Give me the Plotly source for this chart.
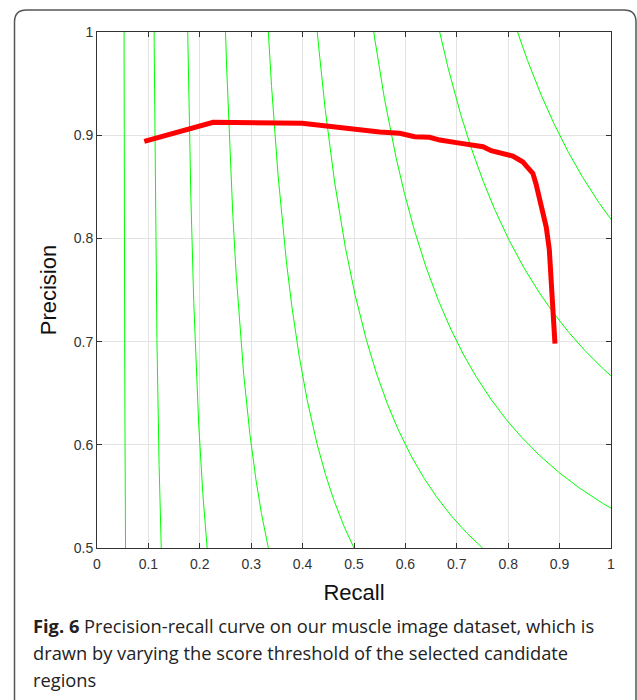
import numpy as np
import plotly.graph_objects as go

# Precision-recall curve
recall = [0.092, 0.226, 0.399, 0.498, 0.550, 0.589, 0.618, 0.647, 0.667, 0.699,
          0.731, 0.751, 0.767, 0.809, 0.828, 0.848, 0.854, 0.861, 0.874, 0.880,
          0.887, 0.891]
precision = [0.894, 0.9125, 0.9115, 0.9057, 0.903, 0.9018, 0.8986, 0.898, 0.8953, 0.8928,
             0.8905, 0.8889, 0.885, 0.8798, 0.8743, 0.863, 0.853, 0.837, 0.811, 0.789,
             0.740, 0.698]

# Iso-F-score reference levels
f_levels = [0.1, 0.2, 0.3, 0.4, 0.5, 0.6, 0.7, 0.8, 0.9]

x_ticks = [0, 0.1, 0.2, 0.3, 0.4, 0.5, 0.6, 0.7, 0.8, 0.9, 1]
y_ticks = [0.5, 0.6, 0.7, 0.8, 0.9, 1]
x_tick_labels = ["0", "0.1", "0.2", "0.3", "0.4", "0.5", "0.6", "0.7", "0.8", "0.9", "1"]
y_tick_labels = ["0.5", "0.6", "0.7", "0.8", "0.9", "1"]

caption_bold = "Fig. 6"
caption_text = ("Precision-recall curve on our muscle image dataset, which is",
                "drawn by varying the score threshold of the selected candidate",
                "regions")

fig = go.Figure()

# iso-F curves: R = f P / (2P - f), drawn over the visible precision range
for f in f_levels:
    p = np.linspace(0.5, 1.0, 600)
    r = f * p / (2 * p - f)
    fig.add_trace(go.Scatter(x=r, y=p, mode="lines",
                             line=dict(color="#00ff00", width=1),
                             hoverinfo="skip", showlegend=False))

fig.add_trace(go.Scatter(x=recall, y=precision, mode="lines",
                         line=dict(color="#ff0000", width=5),
                         showlegend=False))

W, H = 637, 700
L, R, T, B = 97, 26, 32, 152
pw, ph = W - L - R, H - T - B


def px(x):
    return (x - L) / pw


def py(y):
    return (H - B - y) / ph


tick_font = dict(family="Liberation Sans, Arial", size=14, color="#333333")
axis_common = dict(showgrid=True, gridcolor="#e3e3e3", gridwidth=1,
                   showline=True, linecolor="#333333", linewidth=1, mirror="ticks",
                   ticks="inside", ticklen=5, tickcolor="#333333", tickwidth=1,
                   zeroline=False, tickfont=tick_font)

title_font = dict(family="Liberation Sans, Arial", size=22, color="#111111")
fig.update_xaxes(range=[0, 1], tickvals=x_ticks, ticktext=x_tick_labels,
                 ticklabelstandoff=3,
                 title=dict(text="Recall", font=title_font, standoff=13),
                 **axis_common)
fig.update_yaxes(range=[0.5, 1], tickvals=y_ticks, ticktext=y_tick_labels,
                 title=dict(text="Precision", font=title_font, standoff=11),
                 **axis_common)

# rounded outer border (clipped by page at right and bottom)
x0, y0 = px(14.5), py(10)
x1, y1 = px(636), py(720)
rx = 12 / pw
ry = 12 / ph
path = (f"M {x0},{y1} L {x0},{y0 - ry} Q {x0},{y0} {x0 + rx},{y0} "
        f"L {x1 - rx},{y0} Q {x1},{y0} {x1},{y0 - ry} L {x1},{y1}")
fig.add_shape(type="path", path=path, xref="paper", yref="paper",
              line=dict(color="#555555", width=1.5))

line_y = [625, 652, 679]
cap_font = dict(family="Open Sans, Noto Sans", size=18.3, color="#222222")
fig.add_annotation(x=px(31), y=py(line_y[0]), xref="paper", yref="paper",
                   xanchor="left", yanchor="middle", showarrow=False, align="left",
                   text=f"<b>{caption_bold}</b> {caption_text[0]}", font=cap_font)
for i in (1, 2):
    fig.add_annotation(x=px(31), y=py(line_y[i]), xref="paper", yref="paper",
                       xanchor="left", yanchor="middle", showarrow=False, align="left",
                       text=caption_text[i], font=cap_font)

fig.update_layout(width=W, height=H, margin=dict(l=L, r=R, t=T, b=B),
                  plot_bgcolor="white", paper_bgcolor="white")

fig.write_html("out.html", config={"displayModeBar": False},
               post_script="document.body.style.margin='0';document.body.style.overflow='hidden';")
